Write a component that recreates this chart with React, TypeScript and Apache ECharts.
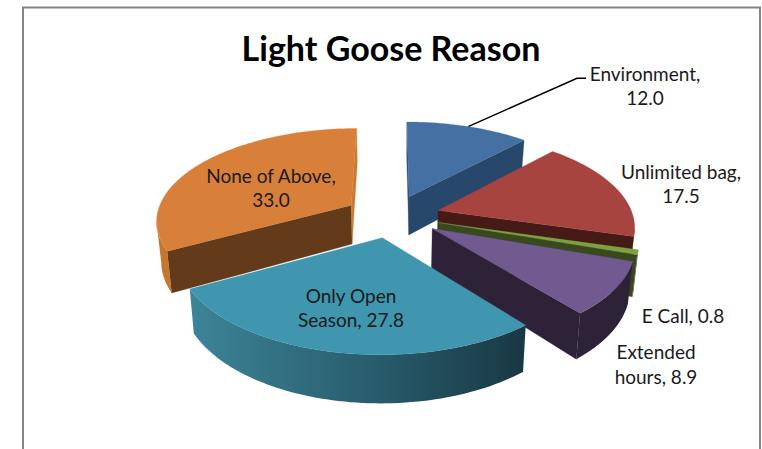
import React, { useEffect, useRef } from "react";
import * as echarts from "echarts";

const titleText = "Light Goose Reason";
const categories = ["Environment", "Unlimited bag", "E Call", "Extended hours", "Only Open Season", "None of Above"];
const values = [12.0, 17.5, 0.8, 8.9, 27.8, 33.0];
const labelTexts = ["Environment,\n12.0", "Unlimited bag,\n17.5", "E Call, 0.8", "Extended\nhours, 8.9", "Only Open\nSeason, 27.8", "None of Above,\n33.0"];
const labelCenters = [[645, 85.5], [681, 183.5], [683, 315], [656, 364], [351, 307.5], [271, 187.5]];
const paintOrder = [5, 0, 1, 2, 3, 4];

const topColors = ["#4470a4", "#a84440", "#7ba23f", "#705a8f", "#3f96ae", "#d8803a"];
const startFace = ["#2d5079", "#451a17", "#39481f", "#2d2238", "#2a6070", "#643b1a"];
const endFace = ["#27476b", "#451a17", "#39481f", "#2d2238", "#2a6070", "#c97b33"];
const arcFace: any[] = [
  "#27476b", "#451a17", "#4a6028", "#2d2238",
  { type: "linear", x: 0, y: 0, x2: 1, y2: 0, colorStops: [
    { offset: 0, color: "#3d8499" }, { offset: 0.5, color: "#2a6070" }, { offset: 1, color: "#183843" },
  ] },
  "#c37731",
];

const CX = 392, CY = 216, A = 195, B = 91.6, K = 0.153, EXPLODE_X = 0.247, EXPLODE_Y = 0.234, DEPTH = 39.5, SHRINK = 0.98;
const total = values.reduce((a, b) => a + b, 0);
const rad = Math.PI / 180;

function sliceAngles(i: number) {
  const before = values.slice(0, i).reduce((a, b) => a + b, 0);
  return [(before / total) * 360, ((before + values[i]) / total) * 360];
}
function project(X: number, Y: number) {
  const w = 1 + K * Y;
  return [CX + (A * X) / w, CY - (B * Y) / w];
}
function drop(X: number, Y: number) {
  const w = 1 + K * Y;
  const p = project(X, Y);
  return [CX + (p[0] - CX) * SHRINK, p[1] + DEPTH / w];
}
function sliceWorld(i: number, theta: number | null) {
  const [a0, a1] = sliceAngles(i);
  const mid = ((a0 + a1) / 2) * rad;
  const ox = EXPLODE_X * Math.sin(mid), oy = EXPLODE_Y * Math.cos(mid);
  if (theta === null) return [ox, oy];
  return [ox + Math.sin(theta * rad), oy + Math.cos(theta * rad)];
}

const renderItem = (_p: any, api: any) => {
  const i = api.value(0);
  const [a0, a1] = sliceAngles(i);
  const apex = sliceWorld(i, null);
  const rim: number[][] = [];
  const n = Math.max(2, Math.ceil((a1 - a0) / 1.5));
  for (let s = 0; s <= n; s++) rim.push(sliceWorld(i, a0 + ((a1 - a0) * s) / n));
  const P = (w: number[]) => project(w[0], w[1]);
  const Q = (w: number[]) => drop(w[0], w[1]);
  const children: any[] = [];
  const quad = (u: number[], v: number[], fill: any) => {
    if (P(v)[0] < P(u)[0]) {
      children.push({ type: "polygon", shape: { points: [P(u), P(v), Q(v), Q(u)] }, style: { fill, stroke: fill, lineWidth: 0.3 }, silent: true });
    }
  };
  quad(apex, rim[0], startFace[i]);
  quad(rim[n], apex, endFace[i]);
  const vis: number[][] = [];
  for (let s = 0; s < n; s++) {
    if (P(rim[s + 1])[0] < P(rim[s])[0]) {
      if (!vis.length) vis.push(rim[s]);
      vis.push(rim[s + 1]);
    }
  }
  if (vis.length) {
    const pts = vis.map(P).concat(vis.slice().reverse().map(Q));
    children.push({ type: "polygon", shape: { points: pts }, style: { fill: arcFace[i] }, silent: true });
  }
  const top = [apex].concat(rim).map(P);
  children.push({ type: "polygon", shape: { points: top }, style: { fill: topColors[i], stroke: topColors[i], lineWidth: 0.3 }, silent: true });
  return { type: "group", children };
};

export default function App() {
  const ref = useRef<HTMLDivElement>(null);
  useEffect(() => {
    const chart = echarts.init(ref.current!, undefined, { renderer: "svg" });
    const [a0, a1] = sliceAngles(0);
    const lw = sliceWorld(0, (a0 + a1) / 2);
    const leaderStart = project(lw[0], lw[1]);
    chart.setOption({
      animation: false,
      backgroundColor: "#ffffff",
      title: {
        text: titleText, left: 386, top: 25, textAlign: "center",
        textStyle: { fontFamily: "Lato", fontWeight: "bold", fontSize: 34, color: "#000000" },
      },
      series: [{
        type: "custom", coordinateSystem: "none", renderItem, silent: true,
        data: paintOrder.map((i) => ({ name: categories[i], value: [i, values[i]] })),
      }],
      graphic: [
        { type: "polyline", shape: { points: [[23, 449], [23, 7.5], [760, 7.5], [760, 449]] }, style: { fill: "none", stroke: "#848484", lineWidth: 2 }, silent: true },
        { type: "polyline", shape: { points: [leaderStart, [577, 78.3], [586, 78.3]] }, style: { fill: "none", stroke: "#000000", lineWidth: 1.5 }, silent: true },
        ...labelTexts.map((t, i) => ({
          type: "text", x: labelCenters[i][0], y: labelCenters[i][1], silent: true, z: 10,
          style: { text: t, fill: "#1a1a1a", font: "19px Lato", align: "center", verticalAlign: "middle", lineHeight: 24.5 },
        })),
      ],
    });
    return () => chart.dispose();
  }, []);
  return <div ref={ref} style={{ position: "absolute", left: 0, top: 0, width: 762, height: 449 }} />;
}
